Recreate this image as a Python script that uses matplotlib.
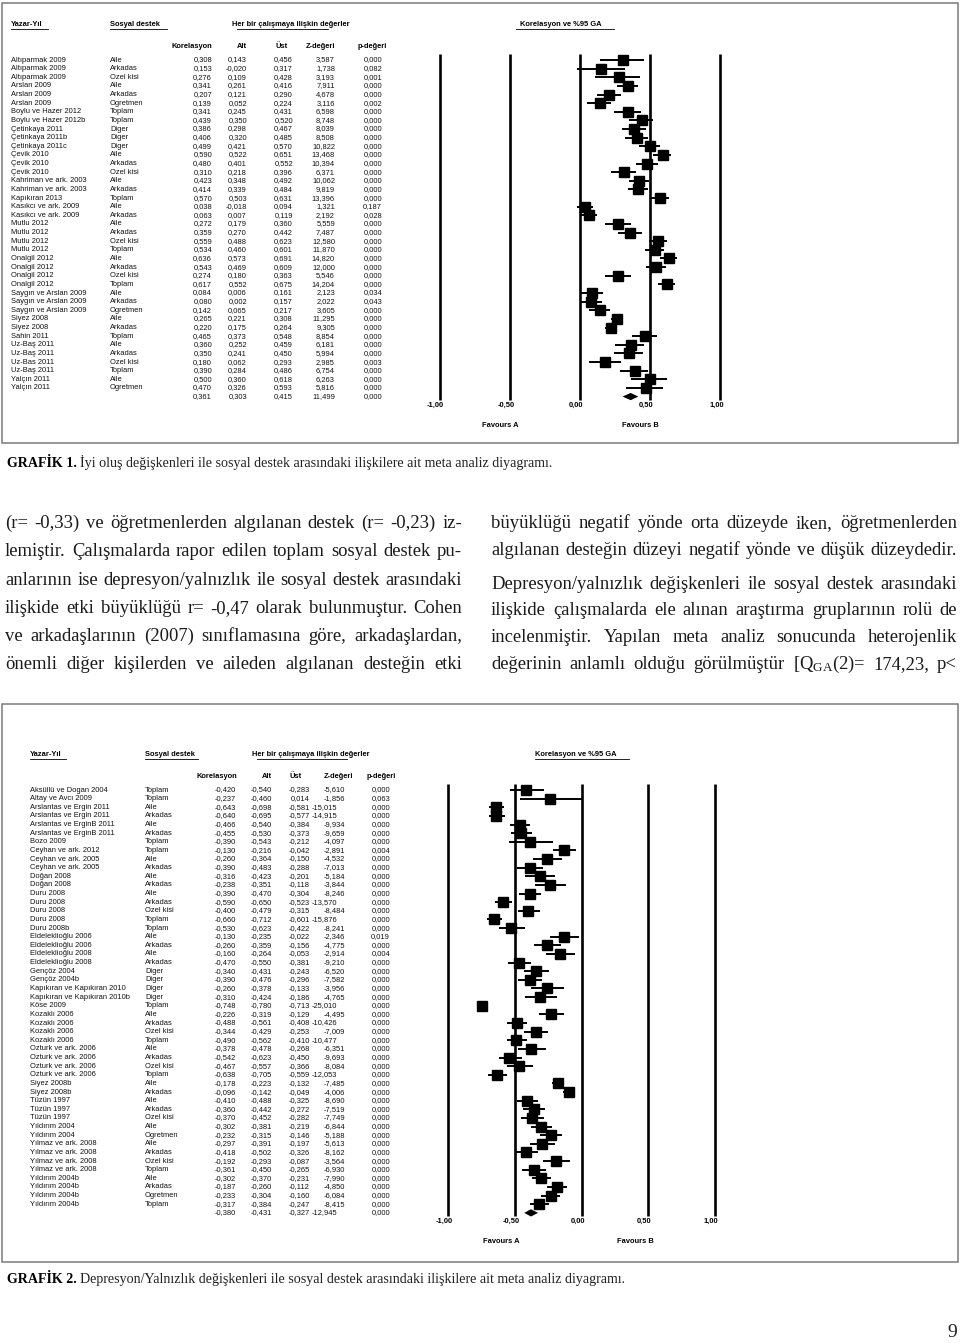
import matplotlib
matplotlib.use('Agg')
import matplotlib.pyplot as plt
from matplotlib.patches import Rectangle
from matplotlib import transforms

plt.rcParams['mathtext.fontset'] = 'custom'
plt.rcParams['mathtext.rm'] = 'Liberation Serif'
plt.rcParams['mathtext.it'] = 'Liberation Serif:italic'

W, H = 960, 1343

# ---- Grafik 1 : iyi olus ----
g1_yazar = ['Altıparmak 2009', 'Altıparmak 2009', 'Altıparmak 2009', 'Arslan 2009', 'Arslan 2009',
            'Arslan 2009', 'Boylu ve Hazer 2012', 'Boylu ve Hazer 2012b', 'Çetinkaya 2011',
            'Çetinkaya 2011b', 'Çetinkaya 2011c', 'Çevik 2010', 'Çevik 2010', 'Çevik 2010',
            'Kahriman ve ark. 2003', 'Kahriman ve ark. 2003', 'Kapıkıran 2013', 'Kasıkcı ve ark. 2009',
            'Kasıkcı ve ark. 2009', 'Mutlu 2012', 'Mutlu 2012', 'Mutlu 2012', 'Mutlu 2012',
            'Onalgil 2012', 'Onalgil 2012', 'Onalgil 2012', 'Onalgil 2012', 'Saygın ve Arslan 2009',
            'Saygın ve Arslan 2009', 'Saygın ve Arslan 2009', 'Siyez 2008', 'Siyez 2008', 'Sahin 2011',
            'Uz-Baş 2011', 'Uz-Baş 2011', 'Uz-Bas 2011', 'Uz-Baş 2011', 'Yalçın 2011', 'Yalçın 2011']
g1_destek = ['Aile', 'Arkadas', 'Ozel kisi', 'Aile', 'Arkadas', 'Ogretmen', 'Toplam', 'Toplam', 'Diger',
             'Diger', 'Diger', 'Aile', 'Arkadas', 'Ozel kisi', 'Aile', 'Arkadas', 'Toplam', 'Aile',
             'Arkadas', 'Aile', 'Arkadas', 'Ozel kisi', 'Toplam', 'Aile', 'Arkadas', 'Ozel kisi', 'Toplam',
             'Aile', 'Arkadas', 'Ogretmen', 'Aile', 'Arkadas', 'Toplam', 'Aile', 'Arkadas', 'Ozel kisi',
             'Toplam', 'Aile', 'Ogretmen']
g1_kor = [0.308, 0.153, 0.276, 0.341, 0.207, 0.139, 0.341, 0.439, 0.386, 0.406, 0.499, 0.590, 0.480,
          0.310, 0.423, 0.414, 0.570, 0.038, 0.063, 0.272, 0.359, 0.559, 0.534, 0.636, 0.543, 0.274,
          0.617, 0.084, 0.080, 0.142, 0.265, 0.220, 0.465, 0.360, 0.350, 0.180, 0.390, 0.500, 0.470, 0.361]
g1_alt = [0.143, -0.020, 0.109, 0.261, 0.121, 0.052, 0.245, 0.350, 0.298, 0.320, 0.421, 0.522, 0.401,
          0.218, 0.348, 0.339, 0.503, -0.018, 0.007, 0.179, 0.270, 0.488, 0.460, 0.573, 0.469, 0.180,
          0.552, 0.006, 0.002, 0.065, 0.221, 0.175, 0.373, 0.252, 0.241, 0.062, 0.284, 0.360, 0.326, 0.303]
g1_ust = [0.456, 0.317, 0.428, 0.416, 0.290, 0.224, 0.431, 0.520, 0.467, 0.485, 0.570, 0.651, 0.552,
          0.396, 0.492, 0.484, 0.631, 0.094, 0.119, 0.360, 0.442, 0.623, 0.601, 0.691, 0.609, 0.363,
          0.675, 0.161, 0.157, 0.217, 0.308, 0.264, 0.548, 0.459, 0.450, 0.293, 0.486, 0.618, 0.593, 0.415]
g1_z = [3.587, 1.738, 3.193, 7.911, 4.678, 3.116, 6.598, 8.748, 8.039, 8.508, 10.822, 13.468, 10.394,
        6.371, 10.062, 9.819, 13.396, 1.321, 2.192, 5.559, 7.487, 12.580, 11.870, 14.820, 12.000, 5.546,
        14.204, 2.123, 2.022, 3.605, 11.295, 9.305, 8.854, 6.181, 5.994, 2.985, 6.754, 6.263, 5.816, 11.499]
g1_p = [0.000, 0.082, 0.001, 0.000, 0.000, 0.002, 0.000, 0.000, 0.000, 0.000, 0.000, 0.000, 0.000,
        0.000, 0.000, 0.000, 0.000, 0.187, 0.028, 0.000, 0.000, 0.000, 0.000, 0.000, 0.000, 0.000,
        0.000, 0.034, 0.043, 0.000, 0.000, 0.000, 0.000, 0.000, 0.000, 0.003, 0.000, 0.000, 0.000, 0.000]

# ---- Grafik 2 : depresyon / yalnizlik ----
g2_yazar = ['Aksüllü ve Dogan 2004', 'Altay ve Avcı 2009', 'Arslantas ve Ergin 2011', 'Arslantas ve Ergin 2011',
            'Arslantas ve ErginB 2011', 'Arslantas ve ErginB 2011', 'Bozo 2009', 'Ceyhan ve ark. 2012',
            'Ceyhan ve ark. 2005', 'Ceyhan ve ark. 2005', 'Doğan 2008', 'Doğan 2008', 'Duru 2008',
            'Duru 2008', 'Duru 2008', 'Duru 2008', 'Duru 2008b', 'Eldeleklioğlu 2006', 'Eldeleklioğlu 2006',
            'Eldeleklioğlu 2008', 'Eldeleklioğlu 2008', 'Gençöz 2004', 'Gençöz 2004b',
            'Kapıkıran ve Kapıkıran 2010', 'Kapıkıran ve Kapıkıran 2010b', 'Köse 2009', 'Kozaklı 2006',
            'Kozaklı 2006', 'Kozaklı 2006', 'Kozaklı 2006', 'Ozturk ve ark. 2006', 'Ozturk ve ark. 2006',
            'Ozturk ve ark. 2006', 'Ozturk ve ark. 2006', 'Siyez 2008b', 'Siyez 2008b', 'Tüzün 1997',
            'Tüzün 1997', 'Tüzün 1997', 'Yıldırım 2004', 'Yıldırım 2004', 'Yılmaz ve ark. 2008',
            'Yılmaz ve ark. 2008', 'Yılmaz ve ark. 2008', 'Yılmaz ve ark. 2008', 'Yıldırım 2004b',
            'Yıldırım 2004b', 'Yıldırım 2004b', 'Yıldırım 2004b']
g2_destek = ['Toplam', 'Toplam', 'Aile', 'Arkadas', 'Aile', 'Arkadas', 'Toplam', 'Toplam', 'Aile', 'Arkadas',
             'Aile', 'Arkadas', 'Aile', 'Arkadas', 'Ozel kisi', 'Toplam', 'Toplam', 'Aile', 'Arkadas', 'Aile',
             'Arkadas', 'Diger', 'Diger', 'Diger', 'Diger', 'Toplam', 'Aile', 'Arkadas', 'Ozel kisi', 'Toplam',
             'Aile', 'Arkadas', 'Ozel kisi', 'Toplam', 'Aile', 'Arkadas', 'Aile', 'Arkadas', 'Ozel kisi',
             'Aile', 'Ogretmen', 'Aile', 'Arkadas', 'Ozel kisi', 'Toplam', 'Aile', 'Arkadas', 'Ogretmen',
             'Toplam']
g2_kor = [-0.420, -0.237, -0.643, -0.640, -0.466, -0.455, -0.390, -0.130, -0.260, -0.390, -0.316, -0.238,
          -0.390, -0.590, -0.400, -0.660, -0.530, -0.130, -0.260, -0.160, -0.470, -0.340, -0.390, -0.260,
          -0.310, -0.748, -0.226, -0.488, -0.344, -0.490, -0.378, -0.542, -0.467, -0.638, -0.178, -0.096,
          -0.410, -0.360, -0.370, -0.302, -0.232, -0.297, -0.418, -0.192, -0.361, -0.302, -0.187, -0.233,
          -0.317, -0.380]
g2_alt = [-0.540, -0.460, -0.698, -0.695, -0.540, -0.530, -0.543, -0.216, -0.364, -0.483, -0.423, -0.351,
          -0.470, -0.650, -0.479, -0.712, -0.623, -0.235, -0.359, -0.264, -0.550, -0.431, -0.476, -0.378,
          -0.424, -0.780, -0.319, -0.561, -0.429, -0.562, -0.478, -0.623, -0.557, -0.705, -0.223, -0.142,
          -0.488, -0.442, -0.452, -0.381, -0.315, -0.391, -0.502, -0.293, -0.450, -0.370, -0.260, -0.304,
          -0.384, -0.431]
g2_ust = [-0.283, 0.014, -0.581, -0.577, -0.384, -0.373, -0.212, -0.042, -0.150, -0.288, -0.201, -0.118,
          -0.304, -0.523, -0.315, -0.601, -0.422, -0.022, -0.156, -0.053, -0.381, -0.243, -0.296, -0.133,
          -0.186, -0.713, -0.129, -0.408, -0.253, -0.410, -0.268, -0.450, -0.366, -0.559, -0.132, -0.049,
          -0.325, -0.272, -0.282, -0.219, -0.146, -0.197, -0.326, -0.087, -0.265, -0.231, -0.112, -0.160,
          -0.247, -0.327]
g2_z = [-5.610, -1.856, -15.015, -14.915, -9.934, -9.659, -4.097, -2.891, -4.532, -7.013, -5.184, -3.844,
        -8.246, -13.570, -8.484, -15.876, -8.241, -2.346, -4.775, -2.914, -9.210, -6.520, -7.582, -3.956,
        -4.765, -25.010, -4.495, -10.426, -7.009, -10.477, -6.351, -9.693, -8.084, -12.053, -7.485, -4.006,
        -8.690, -7.519, -7.749, -6.844, -5.188, -5.613, -8.162, -3.564, -6.930, -7.990, -4.850, -6.084,
        -8.415, -12.945]
g2_p = [0.000, 0.063, 0.000, 0.000, 0.000, 0.000, 0.000, 0.004, 0.000, 0.000, 0.000, 0.000, 0.000, 0.000,
        0.000, 0.000, 0.000, 0.019, 0.000, 0.004, 0.000, 0.000, 0.000, 0.000, 0.000, 0.000, 0.000, 0.000,
        0.000, 0.000, 0.000, 0.000, 0.000, 0.000, 0.000, 0.000, 0.000, 0.000, 0.000, 0.000, 0.000, 0.000,
        0.000, 0.000, 0.000, 0.000, 0.000, 0.000, 0.000, 0.000]

eksen = [-1.0, -0.5, 0.0, 0.5, 1.0]
eksen_etiket = ['-1,00', '-0,50', '0,00', '0,50', '1,00']
sutunlar = ['Korelasyon', 'Alt', 'Üst', 'Z-değeri', 'p-değeri']

sol_metin = ['(r= -0,33) ve öğretmenlerden algılanan destek (r= -0,23) iz-',
             'lemiştir. Çalışmalarda rapor edilen toplam sosyal destek pu-',
             'anlarının ise depresyon/yalnızlık ile sosyal destek arasındaki',
             'ilişkide etki büyüklüğü r= -0,47 olarak bulunmuştur. Cohen',
             've arkadaşlarının (2007) sınıflamasına göre, arkadaşlardan,',
             'önemli diğer kişilerden ve aileden algılanan desteğin etki']
sag_metin = ['büyüklüğü negatif yönde orta düzeyde iken, öğretmenlerden',
             'algılanan desteğin düzeyi negatif yönde ve düşük düzeydedir.',
             'Depresyon/yalnızlık değişkenleri ile sosyal destek arasındaki',
             'ilişkide çalışmalarda ele alınan araştırma gruplarının rolü de',
             'incelenmiştir. Yapılan meta analiz sonucunda heterojenlik',
             r'değerinin anlamlı olduğu görülmüştür [Q$_{\mathrm{GA}}$(2)= 174,23, p<']

baslik1 = 'İyi oluş değişkenleri ile sosyal destek arasındaki ilişkilere ait meta analiz diyagramı.'
baslik2 = 'Depresyon/Yalnızlık değişkenleri ile sosyal destek arasındaki ilişkilere ait meta analiz diyagramı.'


def fmt(v):
    return f'{v:.3f}'.replace('.', ',')


fig = plt.figure(figsize=(W / 100, H / 100), dpi=100)
page = fig.add_axes([0, 0, 1, 1])
page.set_xlim(0, W)
page.set_ylim(H, 0)
page.axis('off')
renderer = fig.canvas.get_renderer()

SANS = 'Liberation Sans'
SERIF = 'Liberation Serif'
FS = 5.4


def px_axes(left, top, right, bottom):
    return fig.add_axes([left / W, 1 - bottom / H, (right - left) / W, (bottom - top) / H])


def grafik(yazar, destek, kor, alt, ust, z, p, c):
    n = len(yazar)
    x1, y1, x2, y2 = c['frame']
    page.add_patch(Rectangle((x1, y1), x2 - x1, y2 - y1, fill=False, ec='#7a7a7a', lw=1.1))

    # basliklar (alti cizili)
    for txt, x, (u1, u2) in c['hdr']:
        page.text(x, c['hdr_y'], txt, fontsize=FS, family=SANS, weight='bold', va='center')
        page.plot([u1, u2], [c['hdr_y'] + 4, c['hdr_y'] + 4], color='black', lw=0.6)
    for txt, x in zip(sutunlar, c['col_x']):
        page.text(x, c['col_y'], txt, fontsize=FS, family=SANS, weight='bold', va='center', ha='right')

    # tablo
    for i in range(n + 1):
        y = c['row0'] + i * c['dy']
        if i < n:
            page.text(c['x_ad'], y, yazar[i], fontsize=FS, family=SANS, va='center', color='#111')
            page.text(c['x_destek'], y, destek[i], fontsize=FS, family=SANS, va='center', color='#111')
        vals = [kor[i], alt[i], ust[i], z[i], p[i]]
        for j, (v, x) in enumerate(zip(vals, c['val_x'])):
            if j == 3 and c.get('z_shift') and abs(v) >= 10:
                x -= c['z_shift']
            page.text(x, y, fmt(v), fontsize=FS, family=SANS, va='center', ha='right', color='#111')

    # forest
    fl, ft, fr, fb = c['fbox']
    ax = px_axes(fl, ft, fr, fb)
    ax.set_xlim((fl - c['x0']) / c['k'], (fr - c['x0']) / c['k'])
    ax.set_ylim((fb - c['row0']) / c['dy'], (ft - c['row0']) / c['dy'])
    ax.axis('off')
    ax.vlines(eksen, -0.65, n + 0.35, color='black', lw=1.9)
    rows = list(range(n))
    ax.hlines(rows, alt[:n], ust[:n], color='black', lw=1.4)
    ax.plot(kor[:n], rows, 's', ms=c['ms'], color='black', mec='black')
    h = 0.42
    ax.fill([alt[n], kor[n], ust[n], kor[n]], [n, n - h, n, n + h], color='black', lw=0)
    off = transforms.offset_copy(ax.transData, fig=fig, x=-4, y=0, units='dots')
    for v, lab in zip(eksen, eksen_etiket):
        ax.text(v, n + 1.0, lab, transform=off, fontsize=FS, family=SANS, weight='bold',
                ha='center', va='center')
    fy = c['row0'] + (n + 3.3) * c['dy']
    page.text(c['fav'][0], fy, 'Favours A', fontsize=FS, family=SANS, weight='bold', ha='center', va='center')
    page.text(c['fav'][1], fy, 'Favours B', fontsize=FS, family=SANS, weight='bold', ha='center', va='center')


grafik(g1_yazar, g1_destek, g1_kor, g1_alt, g1_ust, g1_z, g1_p, dict(
    frame=(2, 3, 958, 443), hdr_y=25, col_y=46, row0=60, dy=8.63, x_ad=11, x_destek=110,
    hdr=[('Yazar-Yıl', 11, (11, 48)), ('Sosyal destek', 110, (110, 167)),
         ('Her bir çalışmaya ilişkin değerler', 232, (237, 328)), ('Korelasyon ve %95 GA', 520, (516, 614))],
    col_x=[212, 247, 288, 335, 387], val_x=[212, 247, 293, 335, 382],
    fbox=(420, 40, 740, 415), x0=580, k=140.4, ms=6.8, fav=(500, 640)))

grafik(g2_yazar, g2_destek, g2_kor, g2_alt, g2_ust, g2_z, g2_p, dict(
    frame=(2, 704, 958, 1262), hdr_y=755, col_y=776, row0=790, dy=8.63, x_ad=30, x_destek=145,
    hdr=[('Yazar-Yıl', 30, (30, 66)), ('Sosyal destek', 145, (145, 198)),
         ('Her bir çalışmaya ilişkin değerler', 252, (257, 347)), ('Korelasyon ve %95 GA', 535, (535, 629))],
    col_x=[237, 272, 302, 353, 396], val_x=[236, 272, 310, 345, 390], z_shift=8,
    fbox=(420, 770, 740, 1232), x0=581.6, k=133.2, ms=7.2, fav=(501, 635)))


# ---- metin (iki sutun, iki yana yasli) ----
def kelime_genislik(words, size):
    objs = [page.text(0, 0, w, fontsize=size, family=SERIF) for w in words]
    ws = [o.get_window_extent(renderer).width for o in objs]
    for o in objs:
        o.remove()
    return ws


def bosluk(size):
    a = page.text(0, 0, 'x x', fontsize=size, family=SERIF)
    b = page.text(0, 0, 'xx', fontsize=size, family=SERIF)
    s = a.get_window_extent(renderer).width - b.get_window_extent(renderer).width
    a.remove()
    b.remove()
    return s


def satir(text, x0, x1, y, size, yasla=True):
    words = text.split(' ')
    ws = kelime_genislik(words, size)
    gap = (x1 - x0 - sum(ws)) / (len(words) - 1) if yasla else bosluk(size)
    x = x0
    for w, wd in zip(words, ws):
        page.text(x, y, w, fontsize=size, family=SERIF, va='baseline', color='#1a1a1a')
        x += wd + gap


ref = 10
sp = bosluk(ref)
fit = []
for t, cw in [(s, 457) for s in sol_metin] + [(s, 466) for s in sag_metin]:
    ws = kelime_genislik(t.split(' '), ref)
    fit.append(cw / (sum(ws) + sp * (len(ws) - 1)))
size = ref * min(fit) * 0.995

sol_y = [528, 556, 585, 613, 641, 669]
sag_y = [528, 555, 589, 615, 642, 669]
for t, y in zip(sol_metin, sol_y):
    satir(t, 5, 462, y, size)
for t, y in zip(sag_metin, sag_y):
    satir(t, 491, 957, y, size)


# ---- alt yazilar ----
def alt_yazi(no, txt, y, fs):
    b = page.text(7, y, f'GRAFİK {no}.', fontsize=fs, family=SERIF, weight='bold', va='baseline')
    bw = b.get_window_extent(renderer).width
    page.text(7 + bw + fs * 0.35, y, txt, fontsize=fs, family=SERIF, va='baseline', color='#222')


t = page.text(0, 0, 'GRAFİK 1. ' + baslik1, fontsize=10, family=SERIF)
cap_fs = 10 * 544 / t.get_window_extent(renderer).width
t.remove()
alt_yazi(1, baslik1, 467, cap_fs)
alt_yazi(2, baslik2, 1283, cap_fs)

page.text(957, 1337, '9', fontsize=14, family=SERIF, ha='right', va='baseline', color='#222')

fig.savefig('out.png', dpi=100)
